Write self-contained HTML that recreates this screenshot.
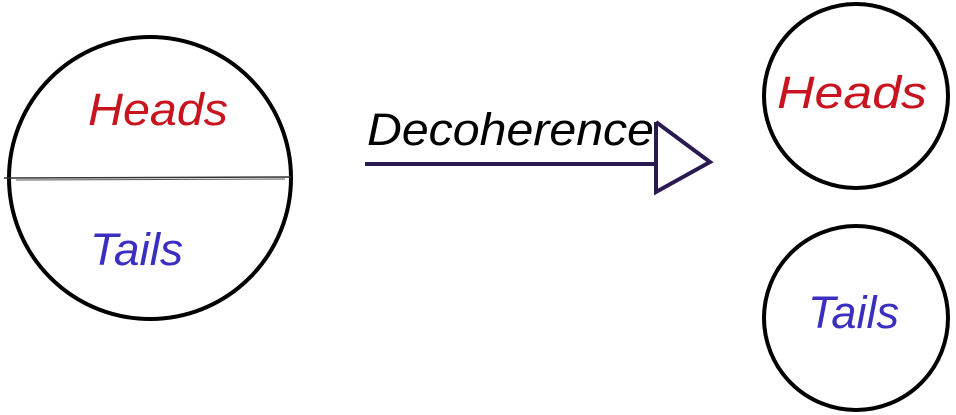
<!DOCTYPE html>
<html><head><style>
html,body{margin:0;padding:0;background:#fff;}
svg{display:block;}
text{font-family:"Liberation Sans",sans-serif;font-style:italic;font-size:45px;}
</style></head><body>
<svg width="956" height="415" viewBox="0 0 956 415" xmlns="http://www.w3.org/2000/svg">
<rect width="956" height="415" fill="#fff"/>
<circle cx="150" cy="178" r="141" fill="none" stroke="#000" stroke-width="4"/>
<line x1="4" y1="178" x2="291" y2="177" stroke="#333" stroke-width="1.5"/>
<line x1="16" y1="180" x2="285" y2="179" stroke="#555" stroke-width="1"/>
<text x="88" y="125" fill="#c8141e" textLength="140" lengthAdjust="spacingAndGlyphs">Heads</text>
<text x="90" y="265" fill="#3a2fc0" textLength="93" lengthAdjust="spacingAndGlyphs">Tails</text>
<line x1="365" y1="164" x2="656" y2="164" stroke="#2a1a50" stroke-width="4"/>
<polyline points="656,122 656,192 710,162 656,122" fill="none" stroke="#2a1a50" stroke-width="4" stroke-linejoin="miter"/>
<text x="367" y="145" fill="#000" textLength="287" lengthAdjust="spacingAndGlyphs">Decoherence</text>
<circle cx="856" cy="96" r="92" fill="none" stroke="#000" stroke-width="4"/>
<text x="777" y="108" fill="#c8141e" textLength="150" lengthAdjust="spacingAndGlyphs">Heads</text>
<circle cx="856" cy="318" r="92" fill="none" stroke="#000" stroke-width="4"/>
<text x="808" y="328" fill="#3a2fc0" textLength="91" lengthAdjust="spacingAndGlyphs">Tails</text>
</svg>
</body></html>
